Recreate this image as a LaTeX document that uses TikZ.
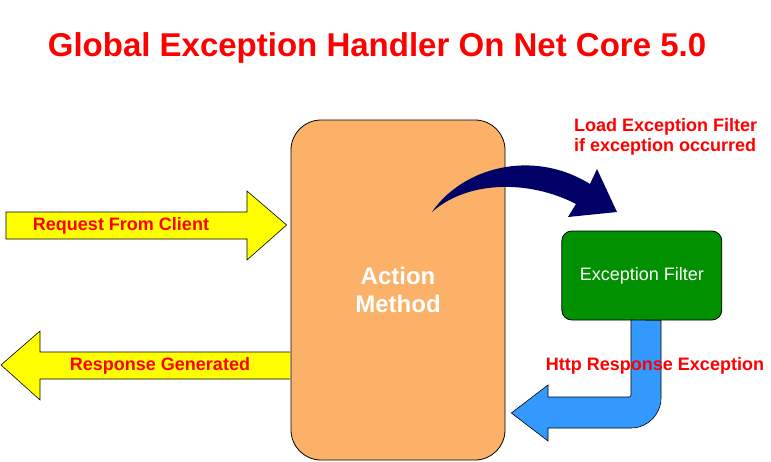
\documentclass[tikz,border=0pt]{standalone}
\usepackage{fontspec}
\setmainfont{Liberation Sans}
\usetikzlibrary{positioning,calc}
\definecolor{actionorange}{RGB}{251,178,104}
\definecolor{filtergreen}{RGB}{0,144,0}
\definecolor{flowyellow}{RGB}{255,255,0}
\definecolor{returnblue}{RGB}{51,153,255}
\definecolor{curvenavy}{RGB}{0,0,102}
\newcommand{\lblfont}{\fontsize{18}{20}\selectfont\bfseries}

\begin{document}
\begin{tikzpicture}[x=1pt, y=-1pt,
	heading/.style={text=red, font=\fontsize{33}{36}\selectfont\bfseries},
	redlabel/.style={text=red, font=\lblfont, inner sep=0pt},
	actionbox/.style={draw, line width=0.8pt, fill=actionorange, rounded corners=30pt, text=white, align=center, font=\fontsize{24}{28}\selectfont\bfseries},
	filterbox/.style={draw, line width=0.8pt, fill=filtergreen, rounded corners=10pt, text=white, font=\fontsize{18}{20}\selectfont},
	flowarrow/.style={draw, line width=0.6pt, fill=flowyellow},
	backarrow/.style={draw, line width=0.6pt, fill=returnblue}]
	\useasboundingbox (0,0) rectangle (771,461);

	\node[heading] (title) at (377,48) {Global Exception Handler On Net Core 5.0};

	% response arrow goes under the action box
	\coordinate (resp) at (290,365);
	\draw[flowarrow] (resp) ++(0,-13) -- (40,352) -- (40,331) -- (1,365) -- (40,400) -- (40,379) -- ($(resp)+(0,14)$);
	\node[redlabel] (resplbl) at (160,366) {Response Generated};

	\node[actionbox, minimum width=214pt, minimum height=340pt] (action) at (398,290) {Action\\Method};
	\node[filterbox, minimum width=160pt, minimum height=89pt, right=56pt of action, yshift=14.5pt] (filter) {Exception Filter};

	\coordinate (req) at ($(action.west |- 0,225)+(-4,0)$);
	\draw[flowarrow] (6,212) -- (247,212) -- (247,191) -- (req) -- (247,260) -- (247,239) -- (6,239) -- cycle;
	\node[redlabel] (reqlbl) at (121,226) {Request From Client};

	% curved arrow into the filter
	\coordinate (tail) at (432,212);
	\coordinate (tip) at (617,212);
	\fill[curvenavy] (tail) .. controls (462,168) and (532,148) .. (590,184) -- (597,169) -- (tip) -- (568,217) -- (576,204) .. controls (530,180) and (468,180) .. (tail) -- cycle;
	\node[redlabel, anchor=north west, align=left] (loadlbl) at (574,118) {Load Exception Filter\\if exception occurred};

	% bent arrow back to the action box
	\coordinate (back) at ($(action.east |- 0,413)+(6,0)$);
	\draw[backarrow] (filter.south -| 661,0) -- (631,320) -- (631,393) .. controls (631,397) .. (627,397) -- (548,397) -- (548,385) -- (back) -- (548,441) -- (548,428) -- (631,428) .. controls (647.5,428) and (661,414.5) .. (661,398) -- cycle;
	\node[redlabel] (httplbl) at (655,366) {Http Response Exception};
\end{tikzpicture}
\end{document}
